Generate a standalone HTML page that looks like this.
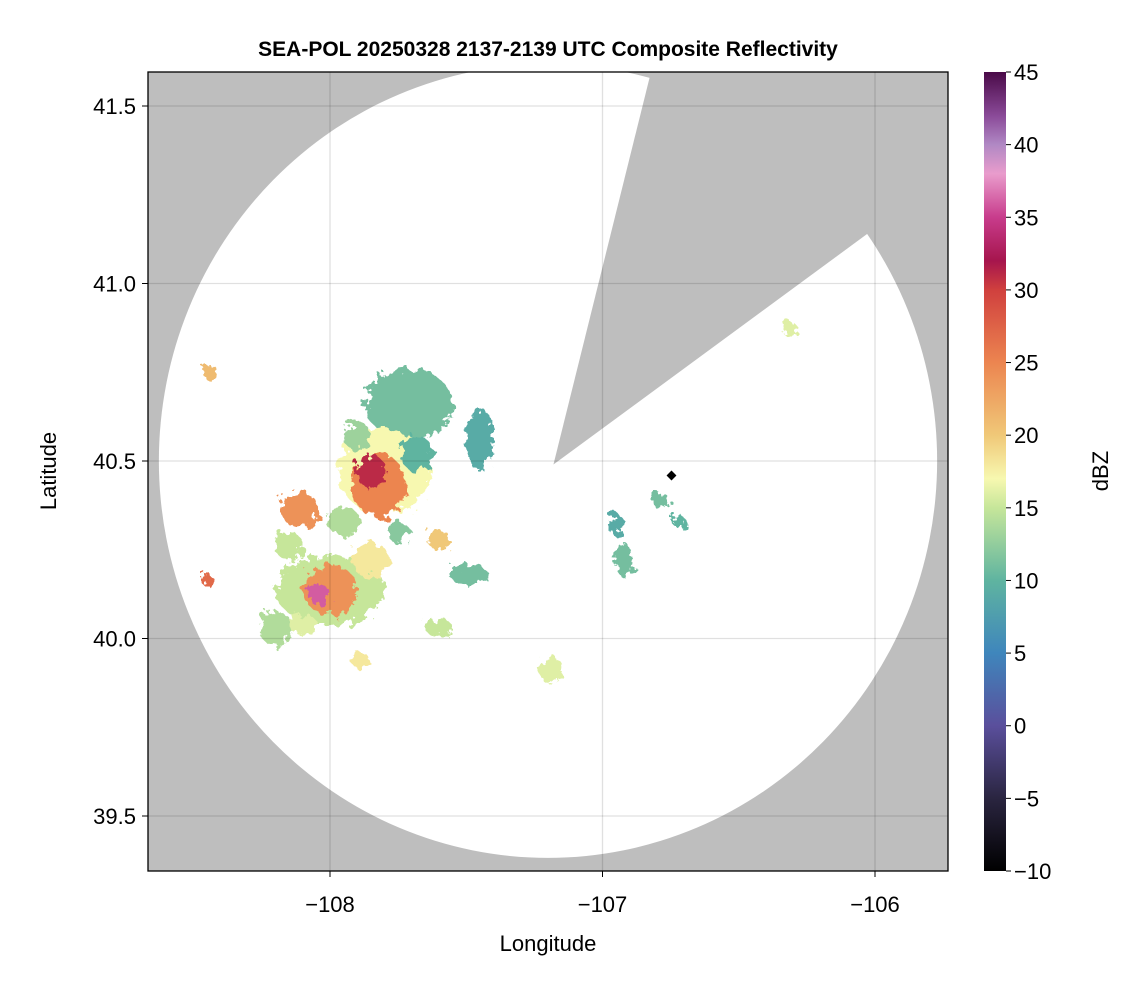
<!DOCTYPE html>
<html><head><meta charset="utf-8">
<style>
body{margin:0;background:#fff;font-family:"Liberation Sans",sans-serif;}
svg text{font-family:"Liberation Sans",sans-serif;}
</style></head>
<body>
<svg id="chart" width="1146" height="990" xmlns="http://www.w3.org/2000/svg">
<defs>
<clipPath id="plotclip"><rect x="148" y="72" width="800" height="799"/></clipPath>
<filter id="rough" x="-30%" y="-30%" width="160%" height="160%">
<feTurbulence type="fractalNoise" baseFrequency="0.12" numOctaves="3" seed="5"/>
<feDisplacementMap in="SourceGraphic" scale="18"/>
</filter>
<linearGradient id="cbar" x1="0" y1="1" x2="0" y2="0"></linearGradient>
</defs>
<text x="548" y="56" text-anchor="middle" font-size="21" font-weight="bold">SEA-POL 20250328 2137-2139 UTC Composite Reflectivity</text>
<g id="plot" clip-path="url(#plotclip)">
<rect x="148" y="72" width="800" height="799" fill="#bebebe"/>
<ellipse id="coverage" fill="#fff"/>
<polygon id="wedge" fill="#bebebe"/>
<g id="echoes" filter="url(#rough)"></g>
<g id="grid"></g>
<rect x="668" y="472" width="7" height="7" fill="#000" transform="rotate(45 671.5 475.5)"/>
</g>
<rect x="148" y="72" width="800" height="799" fill="none" stroke="#000" stroke-width="1.3"/>
<g id="axes"></g>
<text x="548" y="951" text-anchor="middle" font-size="22">Longitude</text>
<text x="56" y="471" text-anchor="middle" font-size="22" transform="rotate(-90 56 471)">Latitude</text>
<rect x="984" y="72" width="22" height="799" fill="url(#cbar)"/>
<g id="cbaxis"></g>
<text x="1108" y="471" text-anchor="middle" font-size="22" transform="rotate(-90 1108 471)">dBZ</text>
</svg>
<script>
const xTicks=[-108,-107,-106];
const xTickLabels=["\u2212108","\u2212107","\u2212106"];
const yTicks=[39.5,40.0,40.5,41.0,41.5];
const yTickLabels=["39.5","40.0","40.5","41.0","41.5"];
const cbTicks=[-10,-5,0,5,10,15,20,25,30,35,40,45];
const cbTickLabels=["\u221210","\u22125","0","5","10","15","20","25","30","35","40","45"];
const cbStops=[-10,-5,0,5,10,15,17,20,25,30,32,35,38,40,42,45];
const cbColors=["#000000","#2a2540","#5a4f9c","#3f86bc","#5fb4a0","#c6e69a","#f7f8b0","#f0c878","#ec8550","#d0403e","#a6154d","#c83c8c","#e99ccc","#b088c4","#8a4a98","#4a0a48"];
const radarLon=-107.2, radarLat=40.5, rangeLon=1.428, rangeLat=1.118;
const wedgeLon=[-107.18,-106.822,-105.732,-105.732];
const wedgeLat=[40.49,41.596,41.596,41.307];
const cellLon=[-107.71,-107.80,-107.82,-107.85,-108.11,-108.0,-108.0,-108.04,-107.60,-107.45,-107.19,-108.44,-108.45,-106.92,-106.79,-106.31,-107.89,-107.49,-107.60,-108.2,-107.95,-107.68,-107.90,-108.15,-107.75,-106.95,-106.72,-107.85,-108.10];
const cellLat=[40.66,40.47,40.43,40.47,40.362,40.137,40.137,40.123,40.278,40.56,39.911,40.75,40.165,40.22,40.39,40.869,39.94,40.18,40.03,40.03,40.33,40.52,40.57,40.26,40.30,40.32,40.33,40.22,40.04];
const cellRLon=[0.16,0.17,0.1,0.05,0.07,0.2,0.1,0.04,0.04,0.05,0.05,0.03,0.02,0.03,0.03,0.03,0.03,0.07,0.05,0.06,0.06,0.06,0.05,0.05,0.04,0.03,0.02,0.07,0.05];
const cellRLat=[0.1,0.12,0.09,0.05,0.05,0.1,0.07,0.03,0.03,0.09,0.035,0.02,0.02,0.05,0.025,0.02,0.025,0.03,0.025,0.05,0.04,0.05,0.04,0.04,0.03,0.03,0.02,0.05,0.03];
const cellDbz=[11,17,25,31,24,15,24,36,20,9,16,21,27,11,11,16,18,11,15,14,14,10,13,15,12,9,10,18,16];
const X=v=>330+(v+108)*272.5;
const Y=v=>106+(41.5-v)*355;
const CB=v=>871-(v+10)*(799/55);
const NS="http://www.w3.org/2000/svg";
function mk(t,a,p){const e=document.createElementNS(NS,t);for(const k in a)e.setAttribute(k,a[k]);p.appendChild(e);return e;}
function hex(h){return [1,3,5].map(i=>parseInt(h.substr(i,2),16));}
function color(v){for(let i=0;i<cbStops.length-1;i++){if(v<=cbStops[i+1]){const t=(v-cbStops[i])/(cbStops[i+1]-cbStops[i]);const a=hex(cbColors[i]),b=hex(cbColors[i+1]);return "rgb("+a.map((c,j)=>Math.round(c+(b[j]-c)*t)).join(",")+")";}}return cbColors[cbColors.length-1];}
const cov=document.getElementById('coverage');
cov.setAttribute('cx',X(radarLon));cov.setAttribute('cy',Y(radarLat));
cov.setAttribute('rx',rangeLon*272.5);cov.setAttribute('ry',rangeLat*355);
document.getElementById('wedge').setAttribute('points',wedgeLon.map((l,i)=>X(l)+","+Y(wedgeLat[i])).join(" "));
const eg=document.getElementById('echoes');
cellLon.forEach((l,i)=>{const e=mk('ellipse',{cx:X(l),cy:Y(cellLat[i]),rx:cellRLon[i]*272.5,ry:cellRLat[i]*355,fill:color(cellDbz[i])},eg);

});
const g=document.getElementById('grid');
xTicks.forEach(t=>{const l=mk('line',{x1:X(t),x2:X(t),y1:72,y2:871,stroke:"rgba(0,0,0,0.12)","stroke-width":1.3},g);

});
yTicks.forEach(t=>{const l=mk('line',{x1:148,x2:948,y1:Y(t),y2:Y(t),stroke:"rgba(0,0,0,0.12)","stroke-width":1.3},g);

});
const ax=document.getElementById('axes');
xTicks.forEach((t,i)=>{mk('line',{x1:X(t),x2:X(t),y1:871,y2:877,stroke:"#000"},ax);
const tx=mk('text',{x:X(t),y:912,"text-anchor":"middle","font-size":22},ax);tx.textContent=xTickLabels[i];

});
yTicks.forEach((t,i)=>{mk('line',{x1:142,x2:148,y1:Y(t),y2:Y(t),stroke:"#000"},ax);
const tx=mk('text',{x:136,y:Y(t)+8,"text-anchor":"end","font-size":22},ax);tx.textContent=yTickLabels[i];

});
const gr=document.getElementById('cbar');
cbStops.forEach((s,i)=>mk('stop',{offset:((s+10)/55*100)+"%","stop-color":cbColors[i]},gr));
const cba=document.getElementById('cbaxis');
cbTicks.forEach((t,i)=>{mk('line',{x1:1006,x2:1011,y1:CB(t),y2:CB(t),stroke:"#000"},cba);
const tx=mk('text',{x:1014,y:CB(t)+8,"font-size":22},cba);tx.textContent=cbTickLabels[i];

});
</script>
</body></html>
